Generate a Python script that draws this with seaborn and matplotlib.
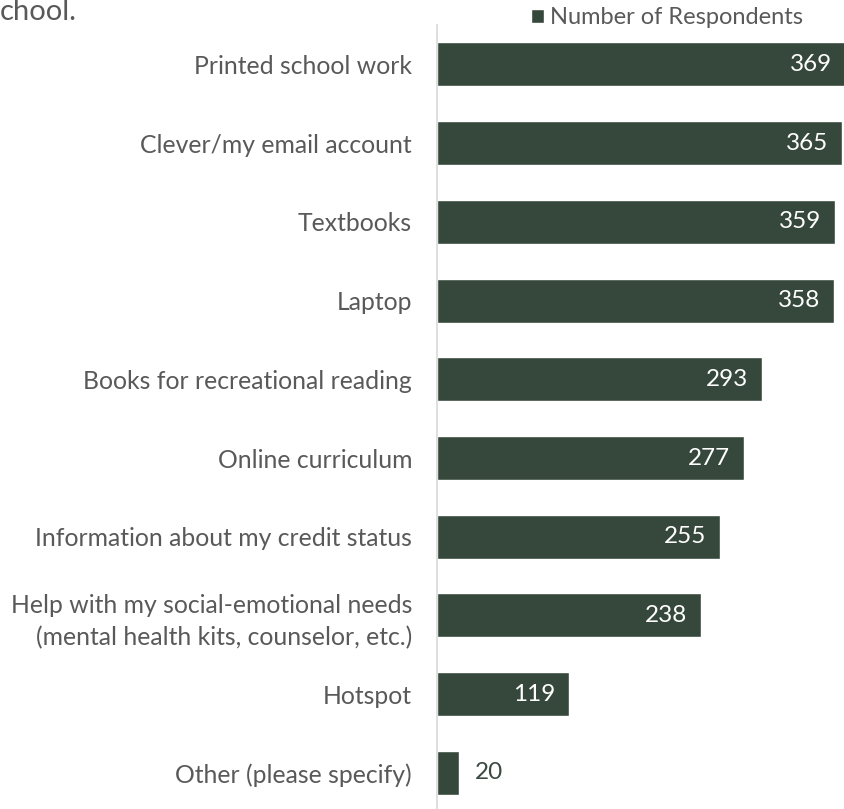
import pandas as pd
import seaborn as sns
import matplotlib.pyplot as plt
from matplotlib.patches import Patch

# data
categories = [
    "Printed school work",
    "Clever/my email account",
    "Textbooks",
    "Laptop",
    "Books for recreational reading",
    "Online curriculum",
    "Information about my credit status",
    "Help with my social-emotional needs\n(mental health kits, counselor, etc.)",
    "Hotspot",
    "Other (please specify)",
]
respondents = [369, 365, 359, 358, 293, 277, 255, 238, 119, 20]
series_name = "Number of Respondents"

BAR = "#36473b"
GREY = "#595959"

sns.set_theme(style="white")
plt.rcParams['font.family'] = ['Lato', 'DejaVu Sans']

df = pd.DataFrame({"Item": categories, "Count": respondents})

fig = plt.figure(figsize=(8.44, 8.09), dpi=100)
ax = fig.add_axes([0.5178, -0.004, 0.4822, 0.973])

sns.barplot(data=df, x="Count", y="Item", color=BAR, saturation=1,
            width=0.56, ax=ax)

ax.set_xlim(0, 366.8)
ax.set_xlabel("")
ax.set_ylabel("")
ax.set_xticks([])
ax.tick_params(axis="y", length=0, pad=18, labelsize=17.8, labelcolor=GREY)
for lbl in ax.get_yticklabels():
    lbl.set_linespacing(1.45)
for side in ["top", "right", "bottom"]:
    ax.spines[side].set_visible(False)
ax.spines["left"].set_color("#d9d9d9")
ax.spines["left"].set_linewidth(1.2)

# value labels: inside end in white, outside for short bars
for i, v in enumerate(respondents):
    if v > 60:
        ax.annotate(str(v), (v, i), xytext=(-10, 0), textcoords="offset points",
                    ha="right", va="center", color="white", fontsize=17.5,
                    annotation_clip=False)
    else:
        ax.annotate(str(v), (v, i), xytext=(11, 0), textcoords="offset points",
                    ha="left", va="center", color="#3a4a40", fontsize=17.5,
                    annotation_clip=False)

fig.legend(handles=[Patch(facecolor=BAR, label=series_name)],
           loc="center left", bbox_to_anchor=(0.618, 0.978), frameon=False,
           fontsize=17, labelcolor=GREY, handlelength=0.55, handleheight=0.55,
           handletextpad=0.25, borderaxespad=0)

# leftover of the cropped title
fig.text(0.0, 0.985, "chool.", ha="left", va="center", fontsize=21, color=GREY)

fig.savefig("out.png", dpi=100)
